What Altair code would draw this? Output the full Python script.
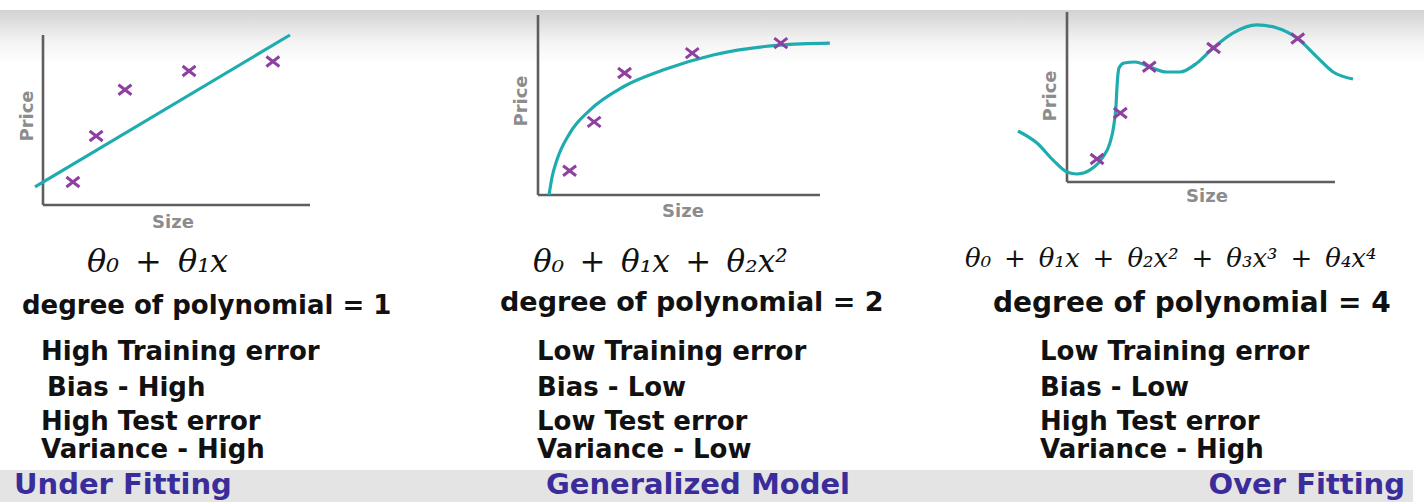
import altair as alt
import pandas as pd

# ---------------------------------------------------------------------------
# Data (axis units run 0-100 on both axes of every panel)
# ---------------------------------------------------------------------------
# Training samples, the same five houses in all three panels
SIZE = [11.2, 19.9, 30.7, 54.7, 86.1]
PRICE = [13.5, 40.6, 67.8, 78.8, 84.4]

# Degree-1 hypothesis: a straight line
LINE_SIZE = [-3.0, 92.5]
LINE_PRICE = [10.6, 100.0]

# Degree-2 hypothesis
QUAD_SIZE = [3.9, 5.0, 6.7, 11.3, 18.4, 30.1, 44.3, 62.1, 85.8, 103.5]
QUAD_PRICE = [0.0, 10.0, 19.4, 34.4, 47.2, 60.0, 69.4, 77.8, 83.3, 84.4]

# Degree-4 hypothesis (wiggles through every sample)
QUART_SIZE = [-18.3, -11.2, -5.2, 0.0, 3.7, 8.6, 13.4, 16.0, 17.5, 18.3, 18.7,
              19.4, 21.3, 25.4, 31.0, 37.3, 42.2, 48.5, 54.5, 61.9, 70.9, 78.4,
              85.8, 93.3, 99.3, 106.7]
QUART_PRICE = [30.0, 22.9, 12.9, 5.9, 4.7, 7.1, 14.7, 22.9, 33.5, 45.3, 57.1,
               67.1, 70.0, 70.6, 67.6, 64.7, 64.7, 70.0, 78.8, 87.6, 92.4, 90.6,
               84.7, 73.5, 64.7, 60.6]

# Text
AXIS_X_TITLE = "Size"
AXIS_Y_TITLE = "Price"
FORMULAS = [
    "θ₀\u2002+\u2002θ₁x",
    "θ₀\u2002+\u2002θ₁x\u2002+\u2002θ₂x²",
    "θ₀\u2002+\u2002θ₁x\u2002+\u2002θ₂x²\u2002+\u2002θ₃x³\u2002+\u2002θ₄x⁴",
]
DEGREES = ["degree of polynomial = 1", "degree of polynomial = 2",
           "degree of polynomial = 4"]
TRAIN_ERR = ["High Training error", "Low Training error", "Low Training error"]
BIAS = ["Bias - High", "Bias - Low", "Bias - Low"]
TEST_ERR = ["High Test error", "Low Test error", "High Test error"]
VARIANCE = ["Variance - High", "Variance - Low", "Variance - High"]
VERDICTS = ["Under Fitting", "Generalized Model", "Over Fitting"]

# ---------------------------------------------------------------------------
# Style
# ---------------------------------------------------------------------------
W, H = 1424, 502
TEAL = "#1eacae"
PURPLE = "#8e3fa0"
AXIS_GREY = "#5e5e5e"
LABEL_GREY = "#8c8c8c"
INK = "#111111"
INDIGO = "#3a2d9b"
SANS = "DejaVu Sans"
SERIF = "DejaVu Serif"
X_MARK = "M-1.3,-1L1.3,1M1.3,-1L-1.3,1"
BODY = 26
VERDICT = 29

one_row = pd.DataFrame({"k": [0]})


def panel(curve_x, curve_y, x_range, y_range):
    sx = alt.Scale(domain=[0, 100], range=x_range, nice=False, zero=False)
    sy = alt.Scale(domain=[0, 100], range=y_range, nice=False, zero=False)
    axes_df = pd.DataFrame({"x0": [0, 0], "y0": [0, 0],
                            "x1": [0, 100], "y1": [100, 0]})
    axes = alt.Chart(axes_df).mark_rule(color=AXIS_GREY, strokeWidth=2.6).encode(
        x=alt.X("x0:Q", scale=sx, axis=None),
        y=alt.Y("y0:Q", scale=sy, axis=None),
        x2="x1:Q",
        y2="y1:Q",
    )
    fit = alt.Chart(pd.DataFrame({"s": curve_x, "p": curve_y})).mark_line(
        color=TEAL, strokeWidth=3.2, interpolate="monotone"
    ).encode(
        x=alt.X("s:Q", scale=sx, axis=None),
        y=alt.Y("p:Q", scale=sy, axis=None),
    )
    samples = alt.Chart(pd.DataFrame({"s": SIZE, "p": PRICE})).mark_point(
        shape=X_MARK, filled=False, stroke=PURPLE, strokeWidth=3, size=100,
        opacity=1,
    ).encode(
        x=alt.X("s:Q", scale=sx, axis=None),
        y=alt.Y("p:Q", scale=sy, axis=None),
    )
    return alt.layer(axes, fit, samples)


def label(text, x, y, size, font=SANS, weight="bold", color=INK,
          align="left", angle=0, style="normal", baseline="alphabetic"):
    return alt.Chart(pd.DataFrame({"t": [text]})).mark_text(
        align=align, baseline=baseline, font=font, fontSize=size,
        fontWeight=weight, fontStyle=style, color=color, angle=angle,
    ).encode(x=alt.value(x), y=alt.value(y), text="t:N")


# Soft grey band along the top edge and the grey caption strip at the bottom
top_band = alt.Chart(one_row).mark_rect(
    fill=alt.Gradient(
        gradient="linear",
        stops=[alt.GradientStop(color="#d2d2d2", offset=0),
               alt.GradientStop(color="#f4f4f4", offset=0.6),
               alt.GradientStop(color="#ffffff", offset=1)],
        x1=0, x2=0, y1=0, y2=1,
    )
).encode(x=alt.value(0), x2=alt.value(W), y=alt.value(10), y2=alt.value(64))

bottom_band = alt.Chart(one_row).mark_rect(color="#e4e4e4").encode(
    x=alt.value(0), x2=alt.value(1413), y=alt.value(470), y2=alt.value(H)
)

p1 = panel(LINE_SIZE, LINE_PRICE, [43, 310], [205, 35])
p2 = panel(QUAD_SIZE, QUAD_PRICE, [538, 820], [195, 15])
p3 = panel(QUART_SIZE, QUART_PRICE, [1067, 1335], [182, 12])

texts = [
    # axis titles
    label(AXIS_Y_TITLE, 28, 116, 18, color=LABEL_GREY, align="center",
          angle=270, baseline="middle"),
    label(AXIS_X_TITLE, 173, 228, 18, color=LABEL_GREY, align="center"),
    label(AXIS_Y_TITLE, 522, 101, 18, color=LABEL_GREY, align="center",
          angle=270, baseline="middle"),
    label(AXIS_X_TITLE, 683, 217, 18, color=LABEL_GREY, align="center"),
    label(AXIS_Y_TITLE, 1051, 96, 18, color=LABEL_GREY, align="center",
          angle=270, baseline="middle"),
    label(AXIS_X_TITLE, 1207, 202, 18, color=LABEL_GREY, align="center"),
    # hypotheses
    label(FORMULAS[0], 87, 272, 32, font=SERIF, weight="normal", style="italic"),
    label(FORMULAS[1], 533, 272, 31, font=SERIF, weight="normal", style="italic"),
    label(FORMULAS[2], 965, 267, 26, font=SERIF, weight="normal", style="italic"),
    # degree lines
    label(DEGREES[0], 22, 314, 26),
    label(DEGREES[1], 500, 311, 27),
    label(DEGREES[2], 993, 312, 28),
    # error / bias / variance
    label(TRAIN_ERR[0], 41, 360, BODY),
    label(TRAIN_ERR[1], 537, 360, BODY),
    label(TRAIN_ERR[2], 1040, 360, BODY),
    label(BIAS[0], 47, 396, BODY),
    label(BIAS[1], 537, 396, BODY),
    label(BIAS[2], 1040, 396, BODY),
    label(TEST_ERR[0], 41, 430, BODY),
    label(TEST_ERR[1], 537, 430, BODY),
    label(TEST_ERR[2], 1040, 430, BODY),
    label(VARIANCE[0], 41, 458, BODY),
    label(VARIANCE[1], 537, 458, BODY),
    label(VARIANCE[2], 1040, 458, BODY),
    # verdicts
    label(VERDICTS[0], 14, 494, VERDICT, color=INDIGO),
    label(VERDICTS[1], 698, 494, VERDICT, color=INDIGO, align="center"),
    label(VERDICTS[2], 1405, 494, VERDICT, color=INDIGO, align="right"),
]

chart = alt.layer(top_band, bottom_band, p1, p2, p3, *texts).resolve_scale(
    x="independent", y="independent"
).properties(
    width=W, height=H, padding=0,
    autosize=alt.AutoSizeParams(type="none"),
    background="white",
).configure_view(stroke=None)

chart.save("out.html", embed_options={"renderer": "svg", "actions": False})
